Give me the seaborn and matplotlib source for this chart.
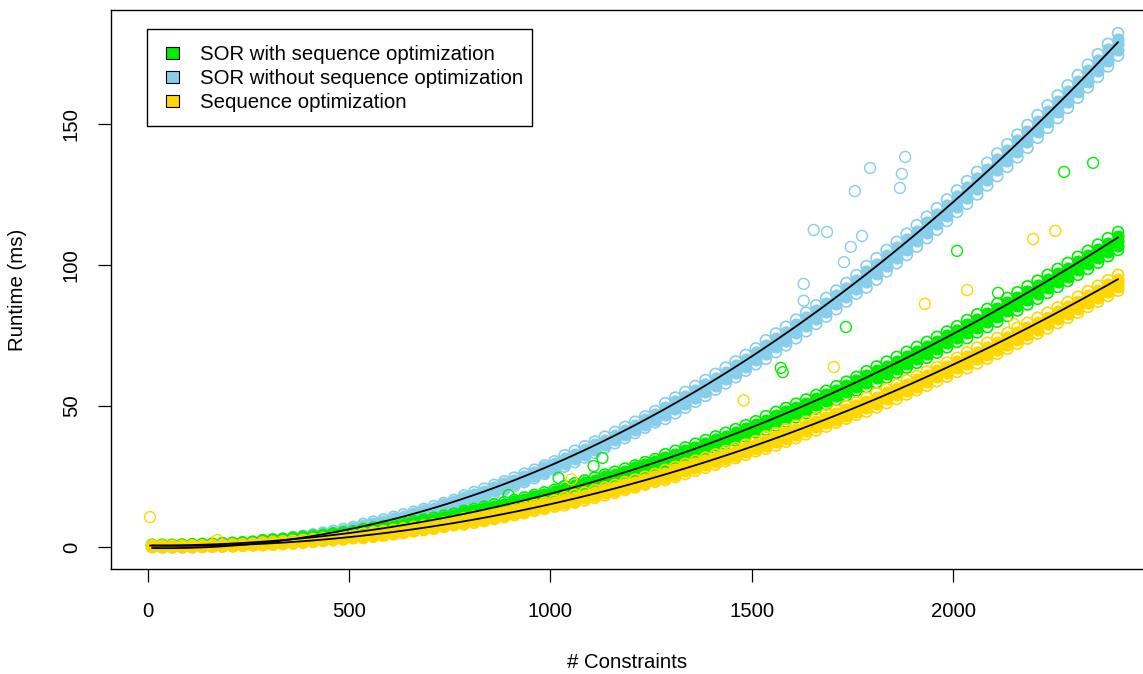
import matplotlib
matplotlib.use("Agg")
import matplotlib.pyplot as plt
import numpy as np
import pandas as pd
import seaborn as sns
from matplotlib.patches import Patch, Rectangle

# ---------------- data ----------------
constraints = [10, 35, 60, 85, 110, 135, 160, 185, 210, 235,
               260, 285, 310, 335, 360, 385, 410, 435, 460, 485,
               510, 535, 560, 585, 610, 635, 660, 685, 710, 735,
               760, 785, 810, 835, 860, 885, 910, 935, 960, 985,
               1010, 1035, 1060, 1085, 1110, 1135, 1160, 1185, 1210, 1235,
               1260, 1285, 1310, 1335, 1360, 1385, 1410, 1435, 1460, 1485,
               1510, 1535, 1560, 1585, 1610, 1635, 1660, 1685, 1710, 1735,
               1760, 1785, 1810, 1835, 1860, 1885, 1910, 1935, 1960, 1985,
               2010, 2035, 2060, 2085, 2110, 2135, 2160, 2185, 2210, 2235,
               2260, 2285, 2310, 2335, 2360, 2385, 2410]

# SOR without sequence optimization: five repeated runs (band from low to high)
sor_without_run1 = [0.0, 0.0, 0.0, 0.0, 0.0, 0.0, 0.1, 0.3, 0.5, 0.7,
                    1.0, 1.1, 1.4, 1.8, 2.3, 2.8, 3.3, 3.9, 4.5, 5.2,
                    5.9, 6.2, 7.0, 7.8, 8.7, 9.6, 10.5, 11.5, 12.5, 13.6,
                    14.7, 15.3, 16.5, 17.7, 19.0, 20.3, 21.6, 23.0, 24.4, 25.9,
                    27.4, 28.5, 30.1, 31.7, 33.4, 35.1, 36.8, 38.6, 40.4, 42.3,
                    44.2, 45.4, 47.4, 49.4, 51.5, 53.6, 55.8, 58.0, 60.2, 62.5,
                    64.8, 66.7, 69.1, 71.5, 74.0, 76.5, 79.1, 81.7, 84.3, 87.0,
                    89.8, 92.0, 94.8, 97.7, 100.6, 103.5, 106.5, 109.5, 112.5, 115.6,
                    118.8, 121.7, 125.0, 128.2, 131.5, 134.8, 138.2, 141.6, 145.1, 148.6,
                    152.1, 155.7, 159.3, 163.0, 166.7, 170.4, 174.2]
sor_without_run2 = [0.2, 0.1, 0.1, 0.1, 0.1, 0.2, 0.3, 0.5, 0.7, 0.9,
                    1.2, 1.4, 1.7, 2.1, 2.6, 3.1, 3.6, 4.2, 4.8, 5.5,
                    6.2, 6.7, 7.5, 8.3, 9.2, 10.1, 11.0, 12.0, 13.0, 14.1,
                    15.2, 16.0, 17.2, 18.4, 19.7, 21.0, 22.3, 23.7, 25.1, 26.6,
                    28.1, 29.5, 31.1, 32.7, 34.4, 36.1, 37.8, 39.6, 41.4, 43.3,
                    45.2, 46.8, 48.8, 50.8, 52.9, 55.0, 57.2, 59.4, 61.6, 63.9,
                    66.2, 68.4, 70.8, 73.2, 75.7, 78.2, 80.8, 83.4, 86.0, 88.7,
                    91.5, 93.9, 96.7, 99.6, 102.5, 105.4, 108.4, 111.4, 114.4, 117.5,
                    120.7, 123.7, 127.0, 130.2, 133.5, 136.8, 140.2, 143.6, 147.1, 150.6,
                    154.1, 157.7, 161.3, 165.0, 168.7, 172.4, 176.2]
sor_without_run3 = [0.3, 0.2, 0.2, 0.2, 0.2, 0.3, 0.4, 0.6, 0.8, 1.0,
                    1.3, 1.7, 2.0, 2.4, 2.9, 3.4, 3.9, 4.5, 5.1, 5.8,
                    6.5, 7.2, 8.0, 8.8, 9.7, 10.6, 11.5, 12.5, 13.5, 14.6,
                    15.7, 16.8, 18.0, 19.2, 20.5, 21.8, 23.1, 24.5, 25.9, 27.4,
                    28.9, 30.5, 32.1, 33.7, 35.4, 37.1, 38.8, 40.6, 42.4, 44.3,
                    46.2, 48.2, 50.2, 52.2, 54.3, 56.4, 58.6, 60.8, 63.0, 65.3,
                    67.6, 70.0, 72.4, 74.8, 77.3, 79.8, 82.4, 85.0, 87.6, 90.3,
                    93.1, 95.8, 98.6, 101.5, 104.4, 107.3, 110.3, 113.3, 116.3, 119.4,
                    122.6, 125.7, 129.0, 132.2, 135.5, 138.8, 142.2, 145.6, 149.1, 152.6,
                    156.1, 159.7, 163.3, 167.0, 170.7, 174.4, 178.2]
sor_without_run4 = [0.4, 0.3, 0.3, 0.3, 0.3, 0.4, 0.5, 0.7, 0.9, 1.1,
                    1.4, 2.0, 2.3, 2.7, 3.2, 3.7, 4.2, 4.8, 5.4, 6.1,
                    6.8, 7.7, 8.5, 9.3, 10.2, 11.1, 12.0, 13.0, 14.0, 15.1,
                    16.2, 17.6, 18.8, 20.0, 21.3, 22.6, 23.9, 25.3, 26.7, 28.2,
                    29.7, 31.5, 33.1, 34.7, 36.4, 38.1, 39.8, 41.6, 43.4, 45.3,
                    47.2, 49.6, 51.6, 53.6, 55.7, 57.8, 60.0, 62.2, 64.4, 66.7,
                    69.0, 71.6, 74.0, 76.4, 78.9, 81.4, 84.0, 86.6, 89.2, 91.9,
                    94.7, 97.7, 100.5, 103.4, 106.3, 109.2, 112.2, 115.2, 118.2, 121.3,
                    124.5, 127.7, 131.0, 134.2, 137.5, 140.8, 144.2, 147.6, 151.1, 154.6,
                    158.1, 161.7, 165.3, 169.0, 172.7, 176.4, 180.2]
sor_without_run5 = [0.6, 0.5, 0.5, 0.5, 0.5, 0.6, 0.7, 0.9, 1.1, 1.3,
                    1.6, 2.3, 2.6, 3.0, 3.5, 4.0, 4.5, 5.1, 5.7, 6.4,
                    7.1, 8.2, 9.0, 9.8, 10.7, 11.6, 12.5, 13.5, 14.5, 15.6,
                    16.7, 18.3, 19.5, 20.7, 22.0, 23.3, 24.6, 26.0, 27.4, 28.9,
                    30.4, 32.5, 34.1, 35.7, 37.4, 39.1, 40.8, 42.6, 44.4, 46.3,
                    48.2, 51.0, 53.0, 55.0, 57.1, 59.2, 61.4, 63.6, 65.8, 68.1,
                    70.4, 73.3, 75.7, 78.1, 80.6, 83.1, 85.7, 88.3, 90.9, 93.6,
                    96.4, 99.6, 102.4, 105.3, 108.2, 111.1, 114.1, 117.1, 120.1, 123.2,
                    126.4, 129.7, 133.0, 136.2, 139.5, 142.8, 146.2, 149.6, 153.1, 156.6,
                    160.1, 163.7, 167.3, 171.0, 174.7, 178.4, 182.2]

# SOR with sequence optimization: five repeated runs
sor_with_run1 = [0.2, 0.2, 0.2, 0.3, 0.4, 0.5, 0.6, 0.8, 0.9, 1.1,
                 1.3, 1.4, 1.7, 1.9, 2.3, 2.6, 3.0, 3.3, 3.8, 4.2,
                 4.6, 4.8, 5.3, 5.8, 6.4, 7.0, 7.6, 8.2, 8.8, 9.5,
                 10.2, 10.6, 11.3, 12.1, 12.9, 13.7, 14.5, 15.4, 16.3, 17.2,
                 18.1, 18.6, 19.6, 20.6, 21.6, 22.7, 23.7, 24.8, 25.9, 27.1,
                 28.2, 28.9, 30.1, 31.3, 32.6, 33.9, 35.2, 36.5, 37.8, 39.2,
                 40.6, 41.6, 43.1, 44.5, 46.0, 47.5, 49.1, 50.6, 52.2, 53.8,
                 55.5, 56.7, 58.4, 60.1, 61.8, 63.6, 65.3, 67.1, 68.9, 70.8,
                 72.7, 74.1, 76.1, 78.0, 79.9, 81.9, 83.9, 86.0, 88.0, 90.1,
                 92.2, 94.3, 96.5, 98.6, 100.8, 103.1, 105.3]
sor_with_run2 = [0.4, 0.4, 0.4, 0.5, 0.6, 0.7, 0.8, 1.0, 1.1, 1.3,
                 1.5, 1.7, 2.0, 2.2, 2.6, 2.9, 3.3, 3.6, 4.1, 4.5,
                 4.9, 5.2, 5.7, 6.2, 6.8, 7.4, 8.0, 8.6, 9.2, 9.9,
                 10.6, 11.1, 11.8, 12.6, 13.4, 14.2, 15.0, 15.9, 16.8, 17.7,
                 18.6, 19.3, 20.3, 21.3, 22.3, 23.4, 24.4, 25.5, 26.6, 27.8,
                 28.9, 29.9, 31.1, 32.3, 33.6, 34.9, 36.2, 37.5, 38.8, 40.2,
                 41.6, 42.8, 44.3, 45.7, 47.2, 48.7, 50.3, 51.8, 53.4, 55.0,
                 56.7, 58.1, 59.8, 61.5, 63.2, 65.0, 66.7, 68.5, 70.3, 72.2,
                 74.1, 75.7, 77.7, 79.6, 81.5, 83.5, 85.5, 87.6, 89.6, 91.7,
                 93.8, 95.9, 98.1, 100.2, 102.4, 104.7, 106.9]
sor_with_run3 = [0.5, 0.5, 0.5, 0.6, 0.7, 0.8, 0.9, 1.1, 1.2, 1.4,
                 1.6, 1.9, 2.2, 2.4, 2.8, 3.1, 3.5, 3.8, 4.3, 4.7,
                 5.1, 5.6, 6.1, 6.6, 7.2, 7.8, 8.4, 9.0, 9.6, 10.3,
                 11.0, 11.7, 12.4, 13.2, 14.0, 14.8, 15.6, 16.5, 17.4, 18.3,
                 19.2, 20.1, 21.1, 22.1, 23.1, 24.2, 25.2, 26.3, 27.4, 28.6,
                 29.7, 30.9, 32.1, 33.3, 34.6, 35.9, 37.2, 38.5, 39.8, 41.2,
                 42.6, 44.0, 45.5, 46.9, 48.4, 49.9, 51.5, 53.0, 54.6, 56.2,
                 57.9, 59.5, 61.2, 62.9, 64.6, 66.4, 68.1, 69.9, 71.7, 73.6,
                 75.5, 77.3, 79.3, 81.2, 83.1, 85.1, 87.1, 89.2, 91.2, 93.3,
                 95.4, 97.5, 99.7, 101.8, 104.0, 106.3, 108.5]
sor_with_run4 = [0.6, 0.6, 0.6, 0.7, 0.8, 0.9, 1.0, 1.2, 1.3, 1.5,
                 1.7, 2.1, 2.4, 2.6, 3.0, 3.3, 3.7, 4.0, 4.5, 4.9,
                 5.3, 6.0, 6.5, 7.0, 7.6, 8.2, 8.8, 9.4, 10.0, 10.7,
                 11.4, 12.3, 13.0, 13.8, 14.6, 15.4, 16.2, 17.1, 18.0, 18.9,
                 19.8, 20.9, 21.9, 22.9, 23.9, 25.0, 26.0, 27.1, 28.2, 29.4,
                 30.5, 31.9, 33.1, 34.3, 35.6, 36.9, 38.2, 39.5, 40.8, 42.2,
                 43.6, 45.2, 46.7, 48.1, 49.6, 51.1, 52.7, 54.2, 55.8, 57.4,
                 59.1, 60.9, 62.6, 64.3, 66.0, 67.8, 69.5, 71.3, 73.1, 75.0,
                 76.9, 78.9, 80.9, 82.8, 84.7, 86.7, 88.7, 90.8, 92.8, 94.9,
                 97.0, 99.1, 101.3, 103.4, 105.6, 107.9, 110.1]
sor_with_run5 = [0.8, 0.8, 0.8, 0.9, 1.0, 1.1, 1.2, 1.4, 1.5, 1.7,
                 1.9, 2.4, 2.7, 2.9, 3.3, 3.6, 4.0, 4.3, 4.8, 5.2,
                 5.6, 6.4, 6.9, 7.4, 8.0, 8.6, 9.2, 9.8, 10.4, 11.1,
                 11.8, 12.8, 13.5, 14.3, 15.1, 15.9, 16.7, 17.6, 18.5, 19.4,
                 20.3, 21.6, 22.6, 23.6, 24.6, 25.7, 26.7, 27.8, 28.9, 30.1,
                 31.2, 32.9, 34.1, 35.3, 36.6, 37.9, 39.2, 40.5, 41.8, 43.2,
                 44.6, 46.4, 47.9, 49.3, 50.8, 52.3, 53.9, 55.4, 57.0, 58.6,
                 60.3, 62.3, 64.0, 65.7, 67.4, 69.2, 70.9, 72.7, 74.5, 76.4,
                 78.3, 80.5, 82.5, 84.4, 86.3, 88.3, 90.3, 92.4, 94.4, 96.5,
                 98.6, 100.7, 102.9, 105.0, 107.2, 109.5, 111.7]

# Sequence optimization: five repeated runs
seqopt_run1 = [0.0, 0.0, 0.0, 0.0, 0.0, 0.0, 0.1, 0.2, 0.3, 0.4,
               0.6, 0.6, 0.8, 1.0, 1.2, 1.5, 1.8, 2.1, 2.4, 2.7,
               3.1, 3.2, 3.6, 4.0, 4.5, 5.0, 5.5, 6.0, 6.5, 7.1,
               7.7, 8.0, 8.6, 9.2, 9.9, 10.6, 11.3, 12.0, 12.8, 13.5,
               14.3, 14.8, 15.7, 16.5, 17.4, 18.3, 19.2, 20.2, 21.1, 22.1,
               23.1, 23.7, 24.8, 25.9, 27.0, 28.1, 29.2, 30.4, 31.5, 32.7,
               33.9, 34.8, 36.0, 37.3, 38.6, 40.0, 41.3, 42.7, 44.1, 45.5,
               46.9, 48.0, 49.5, 51.0, 52.5, 54.1, 55.6, 57.2, 58.8, 60.4,
               62.1, 63.4, 65.1, 66.8, 68.5, 70.3, 72.1, 73.9, 75.7, 77.5,
               79.4, 81.2, 83.1, 85.1, 87.0, 89.0, 90.9]
seqopt_run2 = [0.2, 0.1, 0.1, 0.1, 0.2, 0.2, 0.3, 0.4, 0.5, 0.6,
               0.8, 0.9, 1.1, 1.3, 1.5, 1.8, 2.1, 2.4, 2.7, 3.0,
               3.4, 3.6, 4.0, 4.4, 4.9, 5.4, 5.9, 6.4, 6.9, 7.5,
               8.1, 8.5, 9.1, 9.7, 10.4, 11.1, 11.8, 12.5, 13.3, 14.0,
               14.8, 15.5, 16.4, 17.2, 18.1, 19.0, 19.9, 20.9, 21.8, 22.8,
               23.8, 24.6, 25.7, 26.8, 27.9, 29.0, 30.1, 31.3, 32.4, 33.6,
               34.8, 35.9, 37.1, 38.4, 39.7, 41.1, 42.4, 43.8, 45.2, 46.6,
               48.0, 49.3, 50.8, 52.3, 53.8, 55.4, 56.9, 58.5, 60.1, 61.7,
               63.3, 64.8, 66.5, 68.2, 69.9, 71.7, 73.5, 75.3, 77.1, 78.9,
               80.8, 82.6, 84.5, 86.5, 88.4, 90.4, 92.3]
seqopt_run3 = [0.3, 0.2, 0.2, 0.2, 0.3, 0.3, 0.4, 0.5, 0.6, 0.7,
               0.9, 1.1, 1.3, 1.5, 1.7, 2.0, 2.3, 2.6, 2.9, 3.2,
               3.6, 4.0, 4.4, 4.8, 5.3, 5.8, 6.3, 6.8, 7.3, 7.9,
               8.5, 9.1, 9.7, 10.3, 11.0, 11.7, 12.4, 13.1, 13.9, 14.6,
               15.4, 16.2, 17.1, 17.9, 18.8, 19.7, 20.6, 21.6, 22.5, 23.5,
               24.5, 25.5, 26.6, 27.7, 28.8, 29.9, 31.0, 32.2, 33.3, 34.5,
               35.7, 37.0, 38.2, 39.5, 40.8, 42.2, 43.5, 44.9, 46.3, 47.7,
               49.1, 50.5, 52.0, 53.5, 55.0, 56.6, 58.1, 59.7, 61.3, 62.9,
               64.6, 66.2, 67.9, 69.6, 71.3, 73.1, 74.9, 76.7, 78.5, 80.3,
               82.2, 84.0, 85.9, 87.9, 89.8, 91.8, 93.7]
seqopt_run4 = [0.4, 0.3, 0.3, 0.3, 0.4, 0.4, 0.5, 0.6, 0.7, 0.8,
               1.0, 1.3, 1.5, 1.7, 1.9, 2.2, 2.5, 2.8, 3.1, 3.4,
               3.8, 4.4, 4.8, 5.2, 5.7, 6.2, 6.7, 7.2, 7.7, 8.3,
               8.9, 9.7, 10.3, 10.9, 11.6, 12.3, 13.0, 13.7, 14.5, 15.2,
               16.0, 16.9, 17.8, 18.6, 19.5, 20.4, 21.3, 22.3, 23.2, 24.2,
               25.2, 26.4, 27.5, 28.6, 29.7, 30.8, 31.9, 33.1, 34.2, 35.4,
               36.6, 38.1, 39.3, 40.6, 41.9, 43.3, 44.6, 46.0, 47.4, 48.8,
               50.2, 51.8, 53.3, 54.8, 56.3, 57.9, 59.4, 61.0, 62.6, 64.2,
               65.9, 67.6, 69.3, 71.0, 72.7, 74.5, 76.3, 78.1, 79.9, 81.7,
               83.6, 85.4, 87.3, 89.3, 91.2, 93.2, 95.1]
seqopt_run5 = [0.6, 0.5, 0.5, 0.5, 0.6, 0.6, 0.7, 0.8, 0.9, 1.0,
               1.2, 1.6, 1.8, 2.0, 2.2, 2.5, 2.8, 3.1, 3.4, 3.7,
               4.1, 4.8, 5.2, 5.6, 6.1, 6.6, 7.1, 7.6, 8.1, 8.7,
               9.3, 10.2, 10.8, 11.4, 12.1, 12.8, 13.5, 14.2, 15.0, 15.7,
               16.5, 17.6, 18.5, 19.3, 20.2, 21.1, 22.0, 23.0, 23.9, 24.9,
               25.9, 27.3, 28.4, 29.5, 30.6, 31.7, 32.8, 34.0, 35.1, 36.3,
               37.5, 39.2, 40.4, 41.7, 43.0, 44.4, 45.7, 47.1, 48.5, 49.9,
               51.3, 53.0, 54.5, 56.0, 57.5, 59.1, 60.6, 62.2, 63.8, 65.4,
               67.1, 69.0, 70.7, 72.4, 74.1, 75.9, 77.7, 79.5, 81.3, 83.1,
               85.0, 86.8, 88.7, 90.7, 92.6, 94.6, 96.5]

# isolated outliers
out_without_x = [1629, 1629, 1654, 1687, 1729, 1746, 1774, 1756, 1794, 1868, 1873, 1881]
out_without_y = [93.3, 87.3, 112.4, 111.7, 101.0, 106.4, 110.3, 126.2, 134.4, 127.3, 132.3, 138.3]
out_with_x = [896, 1020, 1107, 1129, 1572, 1577, 1734, 2010, 2112, 2276, 2348]
out_with_y = [18.4, 24.5, 28.7, 31.6, 63.5, 62.0, 78.0, 105.0, 90.1, 133.0, 136.2]
out_seq_x = [5, 172, 1052, 1480, 1704, 1930, 2035, 2152, 2199, 2254]
out_seq_y = [10.6, 2.5, 24.0, 52.0, 63.8, 86.2, 91.1, 79.0, 109.2, 112.1]

x_ticks = [0, 500, 1000, 1500, 2000]
y_ticks = [0, 50, 100, 150]

series_labels = ["SOR with sequence optimization",
                 "SOR without sequence optimization",
                 "Sequence optimization"]
series_colors = ["#00EE00", "#87CEEB", "#FFD700"]

runs_of = {
    series_labels[0]: [sor_with_run1, sor_with_run2, sor_with_run3, sor_with_run4, sor_with_run5],
    series_labels[1]: [sor_without_run1, sor_without_run2, sor_without_run3, sor_without_run4, sor_without_run5],
    series_labels[2]: [seqopt_run1, seqopt_run2, seqopt_run3, seqopt_run4, seqopt_run5],
}
outliers_of = {
    series_labels[0]: (out_with_x, out_with_y),
    series_labels[1]: (out_without_x, out_without_y),
    series_labels[2]: (out_seq_x, out_seq_y),
}
color_of = dict(zip(series_labels, series_colors))


def runs_frame(label, which):
    runs = [runs_of[label][i] for i in which]
    return pd.DataFrame({"constraints": list(constraints) * len(runs),
                         "runtime": [v for r in runs for v in r],
                         "series": label})


def outlier_frame(label):
    ox, oy = outliers_of[label]
    return pd.DataFrame({"constraints": ox, "runtime": oy, "series": label})


# ---------------- drawing ----------------
sns.set_theme(style="white")
plt.rcParams["font.family"] = ["Liberation Sans", "DejaVu Sans"]
for key in ["text.color", "axes.labelcolor", "xtick.color", "ytick.color", "axes.edgecolor"]:
    plt.rcParams[key] = "black"
FS = 14.7

W, H = 1143, 674
fig = plt.figure(figsize=(W / 100, H / 100), dpi=100)
ax = fig.add_axes([111 / W, 1 - 569 / H, (1144 - 111) / W, (569 - 10) / H])

MS = 62
draw_order = [series_labels[1], series_labels[0], series_labels[2]]
for lab in draw_order:
    c = color_of[lab]
    # dense core of overlapping circles (reads as solid in the reference)
    sns.scatterplot(data=runs_frame(lab, [1, 2, 3]), x="constraints", y="runtime", ax=ax,
                    marker="o", s=MS, color=c, facecolor=c, edgecolor=c,
                    linewidth=0.9, legend=False, zorder=2)
    # outer runs as open circles
    sns.scatterplot(data=runs_frame(lab, [0, 4]), x="constraints", y="runtime", ax=ax,
                    marker="o", s=MS, color=c, facecolor="none", edgecolor=c,
                    linewidth=1.2, legend=False, zorder=2)
    sns.scatterplot(data=outlier_frame(lab), x="constraints", y="runtime", ax=ax,
                    marker="o", s=MS, color=c, facecolor="none", edgecolor=c,
                    linewidth=1.0, legend=False, zorder=2)
for lab in draw_order:
    full = pd.concat([runs_frame(lab, [0, 1, 2, 3, 4]), outlier_frame(lab)], ignore_index=True)
    sns.regplot(data=full, x="constraints", y="runtime", ax=ax,
                order=2, scatter=False, ci=None, truncate=True,
                line_kws=dict(color="black", lw=1.3, zorder=3))

ax.set_xlim(-91.9, 2474.5)
ax.set_ylim(-7.8, 190.4)
ax.set_xticks(x_ticks)
ax.set_yticks(y_ticks)
ax.set_xticklabels([str(v) for v in x_ticks])
ax.set_yticklabels([str(v) for v in y_ticks], rotation=90, va="center")
for sp in ax.spines.values():
    sp.set_visible(True)
    sp.set_color("black")
    sp.set_linewidth(1.0)
ax.tick_params(axis="both", which="major", bottom=True, left=True,
               direction="out", length=9.6, width=0.9,
               color="black", labelsize=FS, labelcolor="black")
ax.tick_params(axis="x", pad=14)
ax.tick_params(axis="y", pad=12)
ax.grid(False)

ax.set_xlabel("# Constraints", fontsize=FS, color="black")
ax.set_ylabel("Runtime (ms)", fontsize=FS, color="black")
ax.xaxis.label.set_va("center")
ax.yaxis.label.set_va("center")
ax.xaxis.set_label_coords((627 - 111) / (1144 - 111), (569 - 663) / (569 - 10))
ax.yaxis.set_label_coords((18 - 111) / (1144 - 111), (569 - 290) / (569 - 10))

# legend: box drawn as its own rectangle, entries placed inside
box = Rectangle((147 / W, 1 - 126 / H), (532 - 147) / W, (126 - 29) / H,
                transform=fig.transFigure, facecolor="white", edgecolor="black",
                linewidth=1.0, zorder=4)
fig.add_artist(box)
handles = [Patch(facecolor=color_of[l], edgecolor="black", linewidth=0.8, label=l)
           for l in series_labels]
leg = fig.legend(handles=handles, loc="upper left",
                 bbox_to_anchor=(166 / W, 1 - 45 / H), bbox_transform=fig.transFigure,
                 frameon=False, borderaxespad=0, borderpad=0,
                 handlelength=0.65, handleheight=0.55,
                 handletextpad=1.0, labelspacing=0.25, fontsize=FS)
leg.set_zorder(5)

fig.savefig("out.png", dpi=100)
